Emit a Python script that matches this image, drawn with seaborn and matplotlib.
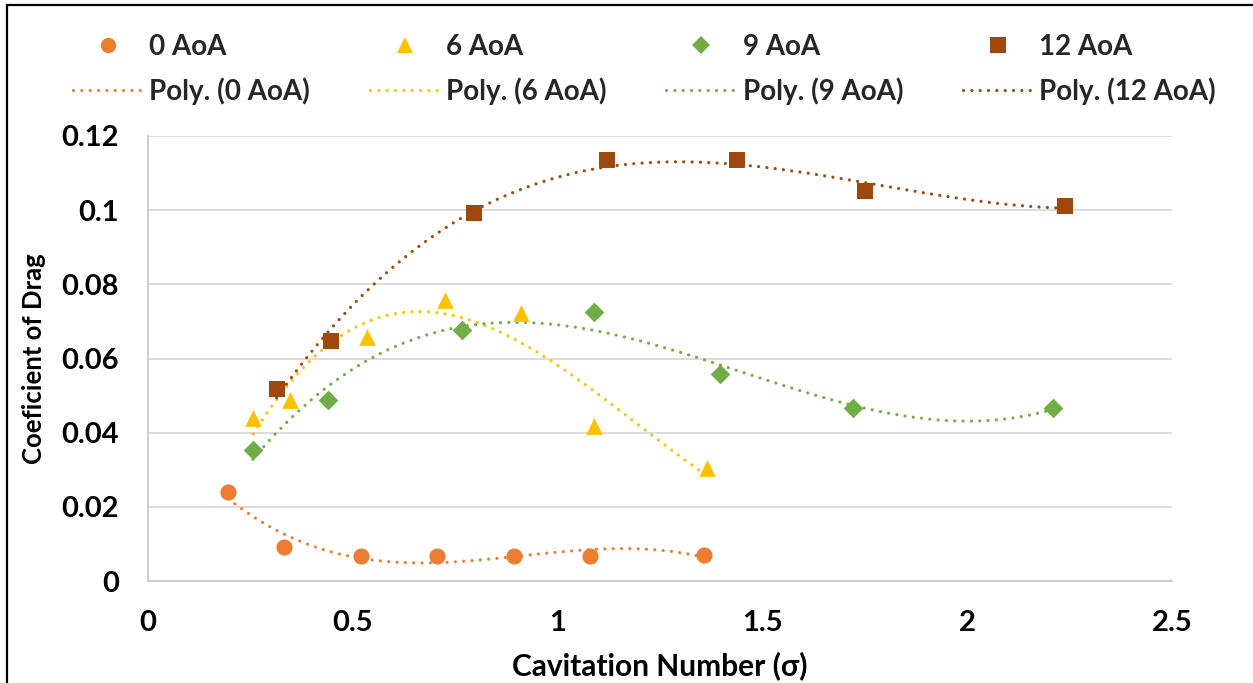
import matplotlib
matplotlib.use("Agg")
import matplotlib.pyplot as plt
from matplotlib.lines import Line2D
from matplotlib.patches import Rectangle
import seaborn as sns
import pandas as pd

sns.set_theme(style="white")
plt.rcParams["font.family"] = ["Lato", "DejaVu Sans"]
plt.rcParams["font.weight"] = "bold"

# Cavitation number (sigma) and drag coefficient for each angle of attack
sigma_0 = [0.196, 0.333, 0.520, 0.706, 0.893, 1.078, 1.357]
cd_0 = [0.0239, 0.0093, 0.0068, 0.0068, 0.0068, 0.0068, 0.0069]

sigma_6 = [0.257, 0.347, 0.535, 0.726, 0.911, 1.090, 1.365]
cd_6 = [0.0439, 0.0488, 0.0659, 0.0758, 0.0722, 0.0418, 0.0305]

sigma_9 = [0.256, 0.439, 0.767, 1.090, 1.396, 1.721, 2.209]
cd_9 = [0.0352, 0.0488, 0.0676, 0.0726, 0.0558, 0.0467, 0.0467]

sigma_12 = [0.314, 0.446, 0.797, 1.120, 1.439, 1.750, 2.239]
cd_12 = [0.0519, 0.0647, 0.0993, 0.1135, 0.1135, 0.1052, 0.1011]

series_labels = ["0 AoA", "6 AoA", "9 AoA", "12 AoA"]
colors = ["#ED7D31", "#FFC000", "#70AD47", "#9E480E"]
markers = ["o", "^", "D", "s"]
marker_sizes = [135, 145, 100, 135]

x_ticks = [0, 0.5, 1, 1.5, 2, 2.5]
x_tick_labels = ["0", "0.5", "1", "1.5", "2", "2.5"]
y_ticks = [0, 0.02, 0.04, 0.06, 0.08, 0.1, 0.12]
y_tick_labels = ["0", "0.02", "0.04", "0.06", "0.08", "0.1", "0.12"]

series = [(sigma_0, cd_0), (sigma_6, cd_6), (sigma_9, cd_9), (sigma_12, cd_12)]

W, H = 1253, 683
fig = plt.figure(figsize=(W / 100, H / 100), dpi=100)
ax = fig.add_axes([148 / W, 1 - 581 / H, (1172 - 148) / W, (581 - 136) / H])

dot_style = (0, (0.01, 2.6))
for (xs, ys), lab, col, mk, ms in zip(series, series_labels, colors, markers, marker_sizes):
    df = pd.DataFrame({"sigma": xs, "cd": ys})
    # cubic polynomial trendline over the data range
    sns.regplot(data=df, x="sigma", y="cd", order=3, ci=None, truncate=True,
                scatter=False, ax=ax,
                line_kws=dict(color=col, lw=2.3, linestyle=dot_style,
                              dash_capstyle="round", zorder=2))
    sns.scatterplot(data=df, x="sigma", y="cd", marker=mk, s=ms, color=col,
                    linewidth=0, ax=ax, zorder=3)

ax.set_xlim(0, 2.5)
ax.set_ylim(0, 0.12)
ax.set_xticks(x_ticks)
ax.set_xticklabels(x_tick_labels)
ax.set_yticks(y_ticks)
ax.set_yticklabels(y_tick_labels)
ax.tick_params(axis="both", length=0, labelsize=21, colors="black")
ax.tick_params(axis="x", pad=21)
ax.tick_params(axis="y", pad=21)
for t in ax.get_xticklabels() + ax.get_yticklabels():
    t.set_fontweight("bold")

ax.grid(axis="y", color="#D9D9D9", lw=1.3)
ax.grid(axis="x", visible=False)
ax.set_axisbelow(True)
for side in ["top", "right"]:
    ax.spines[side].set_visible(False)
for side in ["left", "bottom"]:
    ax.spines[side].set_color("#C8C8C8")
    ax.spines[side].set_linewidth(1.3)

ax.set_xlabel("Cavitation Number (σ)", fontsize=21.5, fontweight="bold",
              color="black", labelpad=11)
ax.set_ylabel("Coeficient of Drag", fontsize=18.5, fontweight="bold",
              color="black", labelpad=11)

# Legend: markers on the first row, trendlines on the second
handles, labels = [], []
for lab, col, mk in zip(series_labels, colors, markers):
    handles.append(Line2D([], [], marker=mk, color=col, linestyle="none",
                          markersize=11 if mk != "D" else 9, markeredgewidth=0))
    labels.append(lab)
    handles.append(Line2D([], [], color=col, lw=2.3, linestyle=dot_style,
                          dash_capstyle="round"))
    labels.append(f"Poly. ({lab})")

leg = fig.legend(handles, labels, ncol=4, loc="upper left",
                 bbox_to_anchor=(73 / W, 1 - 34 / H), frameon=False,
                 prop=dict(size=20, weight="bold"), handlelength=2.5,
                 handletextpad=0.25, columnspacing=2.15, labelspacing=0.62,
                 borderaxespad=0, borderpad=0)

# Chart frame
fig.patches.append(Rectangle((7 / W, -0.2), 2, 1.2 - 5 / H, transform=fig.transFigure,
                             fill=False, edgecolor="black", lw=1.6, clip_on=False))

fig.savefig("out.png", dpi=100)
